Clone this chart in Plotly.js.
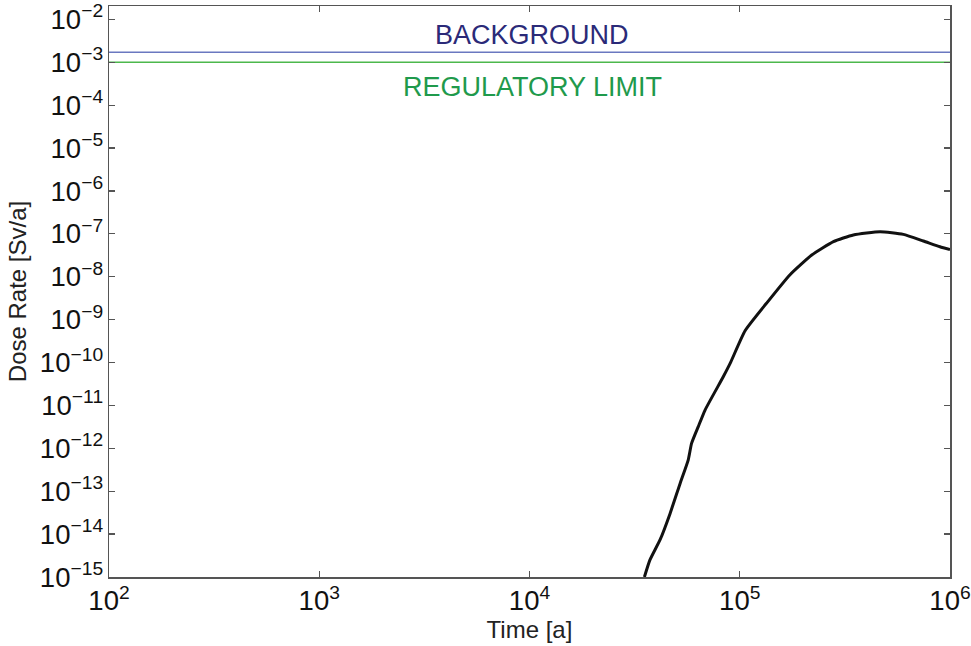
<!DOCTYPE html>
<html>
<head>
<meta charset="utf-8">
<script src="https://cdn.plot.ly/plotly-3.0.1.min.js"></script>
<style>html,body{margin:0;padding:0;background:#fff;}#chart{width:971px;height:646px;}</style>
</head>
<body>
<div id="chart"></div>
<script>
// Time [a]
var timeYears = [35200, 37400, 41800, 46600, 52000, 56900, 59000, 63500, 68400, 83600, 90000, 106000, 134000, 173000, 220000, 279000, 347000, 465000, 600000, 747000, 896000, 1000000];
// Dose rate [Sv/a]
var doseRate = [1e-15, 2.5e-15, 7.4e-15, 3.0e-14, 1.5e-13, 5.4e-13, 1.3e-12, 3.2e-12, 7.8e-12, 4.7e-11, 9.5e-11, 5.5e-10, 2.4e-9, 1.1e-8, 3.2e-8, 6.6e-8, 9.4e-8, 1.12e-7, 9.7e-8, 6.8e-8, 5.0e-8, 4.3e-8];
var refTime = [100, 1000000];
var backgroundLevel = [1.7e-3, 1.7e-3];
var regulatoryLimit = [1.0e-3, 1.0e-3];
var refLabels = ["BACKGROUND", "REGULATORY LIMIT"];

var FONT = 'Liberation Sans, Arial, sans-serif';

var traces = [
  {x: refTime, y: backgroundLevel, mode: 'lines', line: {color: '#6a78c0', width: 1.6}, hoverinfo: 'skip'},
  {x: refTime, y: regulatoryLimit, mode: 'lines', line: {color: '#4cb84c', width: 1.6}, hoverinfo: 'skip'},
  {x: timeYears, y: doseRate, mode: 'lines', line: {color: '#111111', width: 3, shape: 'spline', smoothing: 0.5}, hoverinfo: 'skip'}
];

var axisCommon = {
  type: 'log', dtick: 1, exponentformat: 'power', showgrid: false, zeroline: false,
  showline: true, linecolor: '#555', linewidth: 1.5, mirror: 'ticks',
  ticks: 'inside', ticklen: 6, tickwidth: 1.2, tickcolor: '#555',
  tickfont: {family: FONT, size: 22, color: '#111'}
};

var layout = {
  width: 971, height: 646,
  margin: {l: 109, r: 21, t: 6, b: 69},
  paper_bgcolor: '#fff', plot_bgcolor: '#fff',
  showlegend: false,
  xaxis: Object.assign({}, axisCommon, {
    range: [2, 6],
    title: {text: 'Time [a]', font: {family: FONT, size: 24, color: '#222'}, standoff: 4}
  }),
  yaxis: Object.assign({}, axisCommon, {
    range: [-15, -1.69],
    title: {text: 'Dose Rate [Sv/a]', font: {family: FONT, size: 24, color: '#222'}, standoff: 6}
  }),
  annotations: [
    {xref: 'paper', x: 0.503, yref: 'y', y: -2.366, text: refLabels[0], showarrow: false,
     font: {family: FONT, size: 27, color: '#2b2a78'}},
    {xref: 'paper', x: 0.503, yref: 'y', y: -3.578, text: refLabels[1], showarrow: false,
     font: {family: FONT, size: 27, color: '#1f9a4c'}}
  ]
};

Plotly.newPlot('chart', traces, layout, {displayModeBar: false, staticPlot: true});
</script>
</body>
</html>
